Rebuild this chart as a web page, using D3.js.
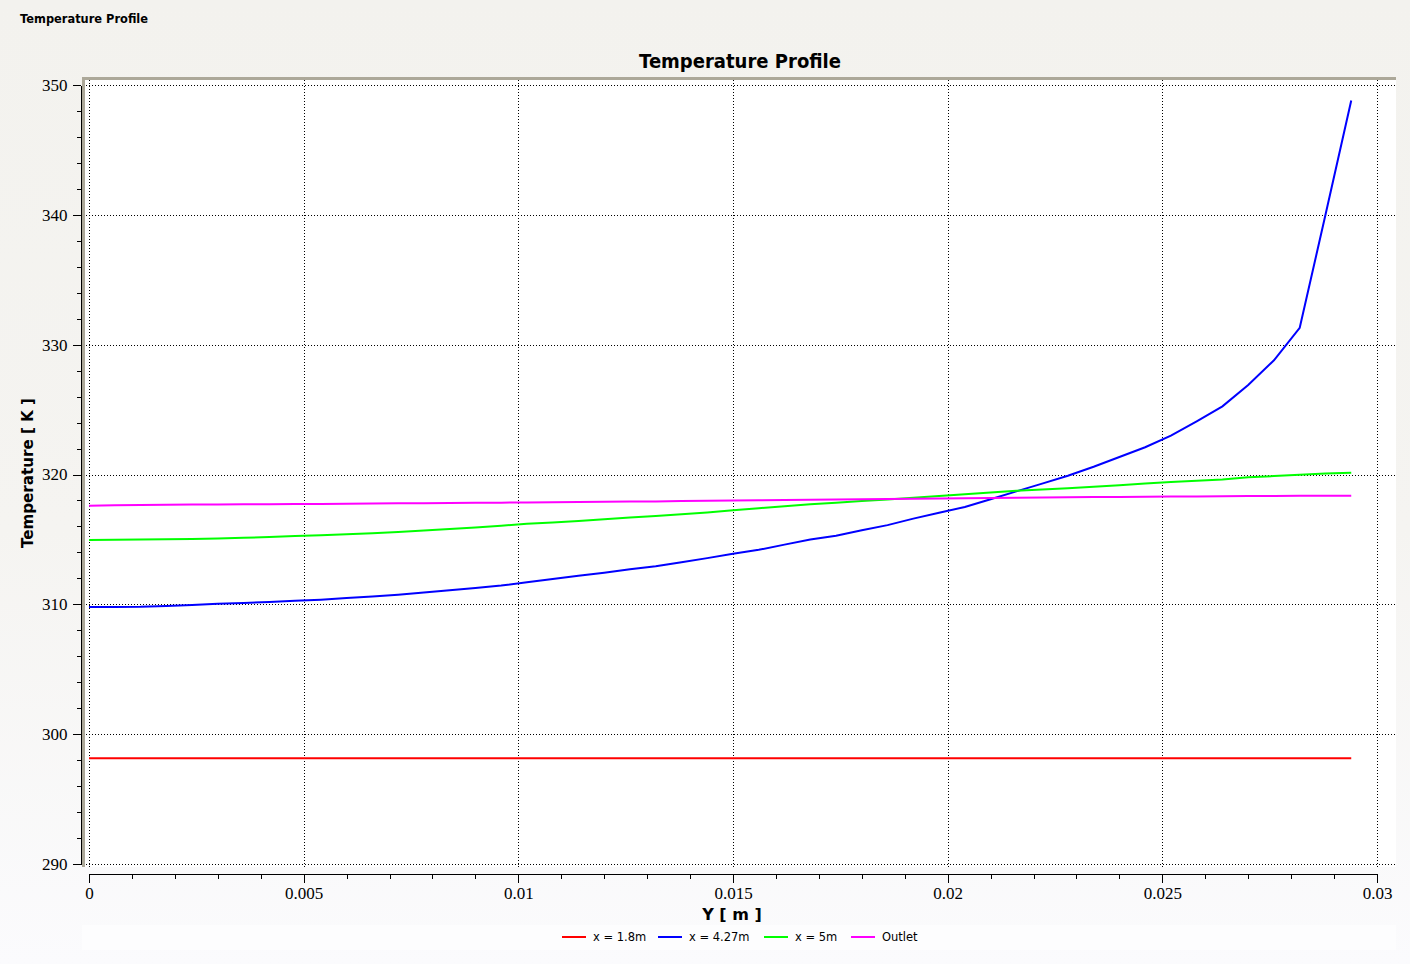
<!DOCTYPE html>
<html>
<head>
<meta charset="utf-8">
<title>Temperature Profile</title>
<script src="https://cdn.jsdelivr.net/npm/d3@7/dist/d3.min.js"></script>
<style>
  body { margin: 0; background: #f3f2ee; }
  svg { display: block; }
  .axis path, .axis line { stroke: #000; shape-rendering: crispEdges; }
  .grid line { stroke: #000; stroke-dasharray: 1,2; shape-rendering: crispEdges; }
  .legend text { font-family: "DejaVu Sans", sans-serif; font-size: 11.5px; fill: #000; }
</style>
</head>
<body>
<script>
// distance across the channel [m]
var yPos = [0, 0.0006, 0.0012, 0.0018, 0.0024, 0.003, 0.0036, 0.0042, 0.0048, 0.0054,
  0.006, 0.0066, 0.0072, 0.0078, 0.0084, 0.009, 0.0096, 0.0102, 0.0108, 0.0114,
  0.012, 0.0126, 0.0132, 0.0138, 0.0144, 0.015, 0.0156, 0.0162, 0.0168, 0.0174,
  0.018, 0.0186, 0.0192, 0.0198, 0.0204, 0.021, 0.0216, 0.0222, 0.0228, 0.0234,
  0.024, 0.0246, 0.0252, 0.0258, 0.0264, 0.027, 0.0276, 0.0282, 0.0288, 0.0294];

// temperatures [K]
var tX18 = [298.15, 298.15, 298.15, 298.15, 298.15, 298.15, 298.15, 298.15, 298.15, 298.15,
  298.15, 298.15, 298.15, 298.15, 298.15, 298.15, 298.15, 298.15, 298.15, 298.15,
  298.15, 298.15, 298.15, 298.15, 298.15, 298.15, 298.15, 298.15, 298.15, 298.15,
  298.15, 298.15, 298.15, 298.15, 298.15, 298.15, 298.15, 298.15, 298.15, 298.15,
  298.15, 298.15, 298.15, 298.15, 298.15, 298.15, 298.15, 298.15, 298.15, 298.15];

var tX427 = [309.8, 309.8, 309.81, 309.88, 309.95, 310.04, 310.1, 310.18, 310.28, 310.36,
  310.48, 310.6, 310.74, 310.92, 311.08, 311.25, 311.45, 311.7, 311.96, 312.2,
  312.44, 312.7, 312.94, 313.24, 313.56, 313.9, 314.2, 314.6, 315.0, 315.28,
  315.7, 316.1, 316.6, 317.05, 317.5, 318.1, 318.7, 319.3, 319.9, 320.6,
  321.35, 322.1, 323.0, 324.1, 325.25, 326.9, 328.8, 331.3, 340.0, 348.8];

var tX5 = [314.95, 314.97, 315.0, 315.02, 315.04, 315.08, 315.12, 315.18, 315.26, 315.33,
  315.4, 315.48, 315.58, 315.68, 315.8, 315.92, 316.05, 316.2, 316.3, 316.42,
  316.55, 316.68, 316.8, 316.93, 317.08, 317.24, 317.4, 317.55, 317.7, 317.82,
  317.95, 318.08, 318.2, 318.35, 318.48, 318.62, 318.74, 318.85, 318.95, 319.05,
  319.18, 319.3, 319.42, 319.52, 319.62, 319.78, 319.88, 319.98, 320.07, 320.14];

var tOutlet = [317.6, 317.63, 317.66, 317.67, 317.68, 317.69, 317.7, 317.71, 317.72, 317.73,
  317.75, 317.76, 317.78, 317.79, 317.8, 317.82, 317.83, 317.85, 317.87, 317.89,
  317.9, 317.92, 317.93, 317.95, 317.97, 317.99, 318.01, 318.03, 318.05, 318.07,
  318.09, 318.11, 318.13, 318.15, 318.17, 318.19, 318.21, 318.22, 318.24, 318.26,
  318.27, 318.29, 318.3, 318.31, 318.33, 318.34, 318.35, 318.36, 318.36, 318.37];

var seriesNames = ["x = 1.8m", "x = 4.27m", "x = 5m", "Outlet"];
var seriesColors = ["#ff0000", "#0000ff", "#00ff00", "#ff00ff"];
var seriesValues = [tX18, tX427, tX5, tOutlet];

var xMajor = [0, 0.005, 0.01, 0.015, 0.02, 0.025, 0.03];
var xLabels = ["0", "0.005", "0.01", "0.015", "0.02", "0.025", "0.03"];
var xMinor = [0.001, 0.002, 0.003, 0.004, 0.006, 0.007, 0.008, 0.009, 0.011, 0.012, 0.013, 0.014,
  0.016, 0.017, 0.018, 0.019, 0.021, 0.022, 0.023, 0.024, 0.026, 0.027, 0.028, 0.029];
var yMajor = [290, 300, 310, 320, 330, 340, 350];
var yMinor = [292, 294, 296, 298, 302, 304, 306, 308, 312, 314, 316, 318, 322, 324, 326, 328,
  332, 334, 336, 338, 342, 344, 346, 348];

var width = 1410, height = 964;
var plot = {left: 84, top: 79, right: 1396, bottom: 867};
var tickFont = "'Liberation Serif', 'Times New Roman', 'DejaVu Serif', serif";

var svg = d3.select("body").append("svg")
    .attr("width", width)
    .attr("height", height);

var defs = svg.append("defs");
var bg = defs.append("linearGradient")
    .attr("id", "bg")
    .attr("x1", 0).attr("y1", 0).attr("x2", 0).attr("y2", 1);
bg.append("stop").attr("offset", "0%").attr("stop-color", "#f3f2ee");
bg.append("stop").attr("offset", "55%").attr("stop-color", "#f5f4f1");
bg.append("stop").attr("offset", "100%").attr("stop-color", "#fbfbfd");

svg.append("rect")
    .attr("width", width)
    .attr("height", height)
    .attr("fill", "url(#bg)");

// legend band
svg.append("rect")
    .attr("x", 82).attr("y", 925)
    .attr("width", 1314).attr("height", 25)
    .attr("fill", "#fdfdfe");

var x = d3.scaleLinear().domain([0, 0.03]).range([89, 1377]);
var y = d3.scaleLinear().domain([290, 350]).range([864, 85]);

// plot area
svg.append("rect")
    .attr("x", plot.left).attr("y", plot.top)
    .attr("width", plot.right - plot.left)
    .attr("height", plot.bottom - plot.top)
    .attr("fill", "#fff");

svg.append("path")
    .attr("d", "M" + (plot.left - 0.5) + "," + plot.bottom + "V" + (plot.top - 0.5) + "H" + plot.right)
    .attr("fill", "none")
    .attr("stroke", "#aca899")
    .attr("stroke-width", 3);

// grid
var grid = svg.append("g").attr("class", "grid");
grid.selectAll(".gx")
    .data(xMajor)
  .enter().append("line")
    .attr("x1", function(d) { return Math.round(x(d)) + 0.5; })
    .attr("x2", function(d) { return Math.round(x(d)) + 0.5; })
    .attr("y1", plot.top + 1)
    .attr("y2", plot.bottom);
grid.selectAll(".gy")
    .data(yMajor)
  .enter().append("line")
    .attr("x1", plot.left + 2)
    .attr("x2", plot.right - 1)
    .attr("y1", function(d) { return Math.round(y(d)) + 0.5; })
    .attr("y2", function(d) { return Math.round(y(d)) + 0.5; });

// lines
var line = d3.line()
    .x(function(d, i) { return x(yPos[i]); })
    .y(function(d) { return y(d); });

svg.append("g")
  .selectAll("path")
    .data(seriesValues)
  .enter().append("path")
    .attr("d", line)
    .attr("fill", "none")
    .attr("stroke", function(d, i) { return seriesColors[i]; })
    .attr("stroke-width", 2);

// y axis
svg.append("g")
    .attr("class", "axis")
    .attr("transform", "translate(80.5,0)")
    .call(d3.axisLeft(y).tickValues(yMinor).tickSize(4).tickSizeOuter(0).tickFormat(""));
svg.append("g")
    .attr("class", "axis")
    .attr("transform", "translate(80.5,0)")
    .call(d3.axisLeft(y).tickValues(yMajor).tickSize(8).tickSizeOuter(0).tickPadding(5).tickFormat(d3.format("d")));

// x axis
svg.append("g")
    .attr("class", "axis")
    .attr("transform", "translate(0,873.5)")
    .call(d3.axisBottom(x).tickValues(xMinor).tickSize(5).tickSizeOuter(0).tickFormat(""));
svg.append("g")
    .attr("class", "axis")
    .attr("transform", "translate(0,873.5)")
    .call(d3.axisBottom(x).tickValues(xMajor).tickSize(9).tickSizeOuter(0).tickPadding(4)
      .tickFormat(function(d, i) { return xLabels[i]; }));

svg.selectAll(".axis")
    .attr("font-family", tickFont)
    .attr("font-size", 17);
svg.selectAll(".tick text")
    .style("font-family", tickFont)
    .style("font-size", "17px")
    .attr("fill", "#000");

// titles
svg.append("text")
    .attr("x", 20).attr("y", 23)
    .style("font-family", "DejaVu Sans, sans-serif")
    .style("font-size", "11.5px")
    .style("font-weight", "bold")
    .attr("textLength", 128)
    .attr("lengthAdjust", "spacingAndGlyphs")
    .text("Temperature Profile");

svg.append("text")
    .attr("x", 740).attr("y", 68)
    .attr("text-anchor", "middle")
    .style("font-family", "DejaVu Sans, sans-serif")
    .style("font-size", "19px")
    .style("font-weight", "bold")
    .attr("textLength", 202)
    .attr("lengthAdjust", "spacingAndGlyphs")
    .text("Temperature Profile");

svg.append("text")
    .attr("transform", "translate(33,473) rotate(-90)")
    .attr("text-anchor", "middle")
    .style("font-family", "DejaVu Sans, sans-serif")
    .style("font-size", "15px")
    .style("font-weight", "bold")
    .attr("textLength", 150)
    .attr("lengthAdjust", "spacingAndGlyphs")
    .text("Temperature [ K ]");

svg.append("text")
    .attr("x", 732).attr("y", 920)
    .attr("text-anchor", "middle")
    .style("font-family", "DejaVu Sans, sans-serif")
    .style("font-size", "16px")
    .style("font-weight", "bold")
    .text("Y [ m ]");

// legend
var legendX = [562, 658, 764, 851];
var legend = svg.append("g").attr("class", "legend");
var item = legend.selectAll("g")
    .data(seriesNames)
  .enter().append("g")
    .attr("transform", function(d, i) { return "translate(" + legendX[i] + ",937)"; });
item.append("line")
    .attr("x1", 0).attr("x2", 24)
    .attr("stroke", function(d, i) { return seriesColors[i]; })
    .attr("stroke-width", 2);
item.append("text")
    .attr("x", 31).attr("y", 4)
    .text(function(d) { return d; });
</script>
</body>
</html>
